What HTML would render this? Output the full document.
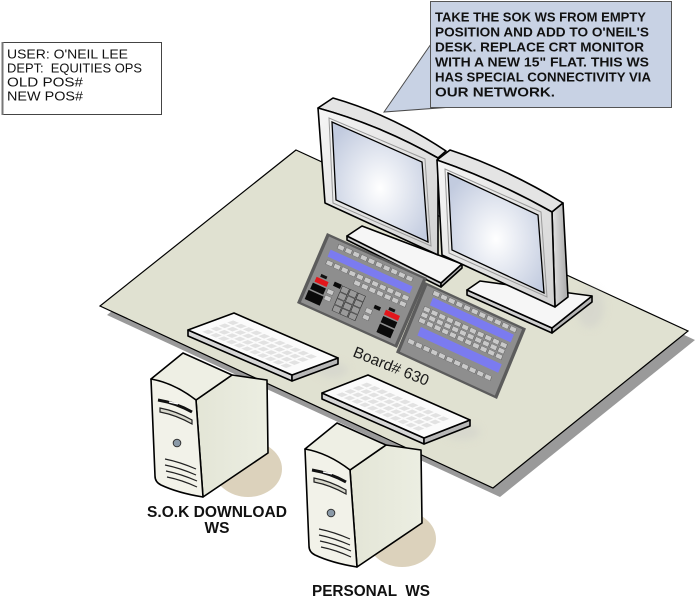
<!DOCTYPE html>
<html><head><meta charset="utf-8">
<style>
html,body{margin:0;padding:0;background:#fff;}
svg{display:block;}
text{font-family:"Liberation Sans",Arial,sans-serif;}
.b{fill:#c9c9c9;stroke:#666;stroke-width:.5;}
.o{stroke:#000;stroke-width:1.6;stroke-linejoin:round;}
</style></head><body>
<svg width="698" height="601" viewBox="0 0 698 601" xmlns="http://www.w3.org/2000/svg">
<defs>
 <radialGradient id="scr" cx="0.5" cy="0.55" r="0.62">
  <stop offset="0" stop-color="#ffffff"/>
  <stop offset="1" stop-color="#c2cbdf"/>
 </radialGradient>
 <linearGradient id="bez" x1="0" y1="0" x2="1" y2="1">
  <stop offset="0" stop-color="#f6f6f6"/>
  <stop offset="1" stop-color="#d2d2d2"/>
 </linearGradient>
 <linearGradient id="side" x1="0" y1="0" x2="1" y2="0">
  <stop offset="0" stop-color="#e2e2e2"/><stop offset="1" stop-color="#a9a9a9"/>
 </linearGradient>
 <linearGradient id="tside" x1="0" y1="0" x2="1" y2="0">
  <stop offset="0" stop-color="#e3e5d6"/><stop offset="1" stop-color="#eceee2"/>
 </linearGradient>
 <pattern id="keys" patternUnits="userSpaceOnUse" x="7.5" y="10" width="7.5" height="18">
  <rect x="1" y="2" width="5.5" height="13" fill="#e2e2e2"/>
 </pattern>
 <filter id="blur"><feGaussianBlur stdDeviation="4"/></filter>
 <g id="tower">
  <ellipse cx="248" cy="469" rx="34" ry="28" fill="#dcd2bc"/>
  <polygon class="o" points="196,400 232,375 267,380 268,453 203,497" fill="url(#tside)"/>
  <polygon class="o" points="151,379 183,353 232,375 196,400" fill="#eeefe4"/>
  <path class="o" d="M151,379 Q174,383 196,400 L203,497 Q178,493 161,485 Q155,482 155,476 Z" fill="#f2f2e9"/>
  <path d="M158,400 Q176,403 192,412" stroke="#111" stroke-width="3" fill="none"/>
  <path d="M169,402 L178,404" stroke="#fff" stroke-width="1.4"/>
  <path d="M160,408 Q176,411 192,420 L192,424 Q176,415 160,412 Z" fill="#d8d8cc" stroke="#222" stroke-width="1.2"/>
  <circle cx="177" cy="443" r="3.8" fill="#8b9aa8" stroke="#333" stroke-width="1"/>
  <path d="M165,459 Q180,462 196,469 M165,465 Q180,468 196,475 M166,471 Q181,474 197,481 M167,477 Q182,480 197,487" stroke="#222" stroke-width="1.2" fill="none"/>
 </g>
</defs>

<!-- desk -->
<polygon points="303,159 695,340 500,497 107,315" fill="#9a9a9a"/>
<polygon points="296,150 688,331 493,488 100,306" fill="#e0e1d1" stroke="#000" stroke-width="1.2"/>

<!-- soft shadows -->
<g filter="url(#blur)" opacity="0.5" fill="#cfcfca">
 <ellipse cx="590" cy="308" rx="14" ry="20"/>
 <ellipse cx="462" cy="432" rx="18" ry="8"/>
 <ellipse cx="332" cy="370" rx="16" ry="8"/>
</g>

<!-- tower 1 + keyboard 1 -->
<use href="#tower"/>
<polygon class="o" points="188,330 292,375 292,381 188,336" fill="#d6d6d6"/>
<polygon class="o" points="292,375 338,358 338,364 292,381" fill="#b8b8b8"/>
<polygon class="o" points="188,330 234,313 338,358 292,375" fill="#fbfbfb"/>
<g transform="matrix(1.04,0.45,0.46,-0.17,188,330)">
 <rect x="7.5" y="10" width="82.5" height="72" fill="url(#keys)"/>
</g>

<!-- tower 2 + keyboard 2 -->
<use href="#tower" transform="translate(154,70)"/>
<polygon class="o" points="322,393 424,438 424,444 322,399" fill="#d6d6d6"/>
<polygon class="o" points="424,438 470,420 470,426 424,444" fill="#b8b8b8"/>
<polygon class="o" points="322,393 368,375 470,420 424,438" fill="#fbfbfb"/>
<g transform="matrix(1.02,0.45,0.46,-0.18,322,393)">
 <rect x="7.5" y="10" width="82.5" height="72" fill="url(#keys)"/>
</g>

<!-- left monitor stand -->
<polygon class="o" points="347,236 347,240 441,287 441,283" fill="#cfcfcf"/>
<polygon class="o" points="441,283 441,287 462,268 462,264" fill="#b5b5b5"/>
<polygon class="o" points="347,236 362,226 462,264 441,283" fill="#f6f6f6"/>

<!-- left monitor -->
<path class="o" d="M318,108 L333,98 Q392,115 446,151 L438,158 Q380,125 318,108 Z" fill="#e4e4e4" stroke-width="2"/>
<path class="o" d="M318,108 Q380,125 438,158 L438,255 L325,203 Z" fill="url(#bez)" stroke-width="2"/>
<polygon points="329,118 425,159 431,246 333,203" fill="none" stroke="#9a9a9a" stroke-width="1"/>
<polygon points="332,122 422,162 428,242 336,200" fill="url(#scr)" stroke="#000" stroke-width="1.3"/>

<!-- right monitor stand -->
<polygon class="o" points="467,290 467,295 552,333 552,328" fill="#cfcfcf"/>
<polygon class="o" points="552,328 552,333 592,302 592,296" fill="#b5b5b5"/>
<polygon class="o" points="467,290 480,281 592,296 552,328" fill="#f6f6f6"/>

<!-- right monitor -->
<path class="o" d="M437,160 L450,150 Q505,168 563,203 L552,212 Q495,180 437,160 Z" fill="#e4e4e4" stroke-width="2"/>
<path class="o" d="M552,212 L563,203 L568,297 L555,307 Z" fill="url(#side)" stroke-width="2"/>
<path class="o" d="M437,160 Q495,180 552,212 L555,307 L442,255 Z" fill="url(#bez)" stroke-width="2"/>
<polygon points="445,169 541,212 547,297 449,253" fill="none" stroke="#9a9a9a" stroke-width="1"/>
<polygon points="448,173 538,215 544,293 452,250" fill="url(#scr)" stroke="#000" stroke-width="1.3"/>

<!-- left trading board -->
<g transform="matrix(1.0,0.45,-0.30,0.70,327,233)">
 <rect x="0" y="0" width="100" height="100" fill="#5c5c5c"/>
 <rect x="3" y="3" width="94" height="94" fill="#8e8e8e"/>
 <rect class="b" x="14" y="7" width="6" height="6"/><rect class="b" x="21.6" y="7" width="6" height="6"/><rect class="b" x="29.2" y="7" width="6" height="6"/><rect class="b" x="36.8" y="7" width="6" height="6"/><rect class="b" x="44.4" y="7" width="6" height="6"/><rect class="b" x="52" y="7" width="6" height="6"/><rect class="b" x="59.6" y="7" width="6" height="6"/><rect class="b" x="67.2" y="7" width="6" height="6"/><rect class="b" x="74.8" y="7" width="6" height="6"/><rect class="b" x="82.4" y="7" width="6" height="6"/>
 <rect x="9" y="18" width="82" height="10" fill="#7b7bf0"/>
 <rect class="b" x="10" y="32" width="6" height="6"/><rect class="b" x="17.6" y="32" width="6" height="6"/><rect class="b" x="25.2" y="32" width="6" height="6"/><rect class="b" x="32.8" y="32" width="6" height="6"/><rect class="b" x="40.4" y="32" width="6" height="6"/><rect class="b" x="48" y="32" width="6" height="6"/><rect class="b" x="55.6" y="32" width="6" height="6"/><rect class="b" x="63.2" y="32" width="6" height="6"/><rect class="b" x="70.8" y="32" width="6" height="6"/><rect class="b" x="78.4" y="32" width="6" height="6"/><rect class="b" x="86" y="32" width="6" height="6"/>
 <rect class="b" x="40.4" y="41" width="6" height="6"/><rect class="b" x="48" y="41" width="6" height="6"/><rect class="b" x="55.6" y="41" width="6" height="6"/><rect class="b" x="63.2" y="41" width="6" height="6"/><rect class="b" x="70.8" y="41" width="6" height="6"/><rect class="b" x="78.4" y="41" width="6" height="6"/><rect class="b" x="86" y="41" width="6" height="6"/>
 <rect x="10" y="52" width="6" height="4" fill="#111"/>
 <rect x="7" y="58" width="12" height="7" fill="#e3161b"/>
 <rect x="6" y="67" width="13" height="9" fill="#0a0a0a"/>
 <rect x="5" y="78" width="15" height="13" fill="#0a0a0a"/>
 <rect x="24" y="54" width="7" height="6" fill="#0a0a0a"/>
 <rect class="b" x="21" y="66" width="6" height="6"/><rect class="b" x="21" y="75" width="6" height="6"/>
 <g fill="#9a9a9a" stroke="#333" stroke-width=".6">
  <rect x="32" y="55" width="7" height="8"/><rect x="40" y="55" width="7" height="8"/><rect x="48" y="55" width="7" height="8"/>
  <rect x="32" y="64" width="7" height="8"/><rect x="40" y="64" width="7" height="8"/><rect x="48" y="64" width="7" height="8"/>
  <rect x="32" y="73" width="7" height="8"/><rect x="40" y="73" width="7" height="8"/><rect x="48" y="73" width="7" height="8"/>
  <rect x="32" y="82" width="7" height="8"/><rect x="40" y="82" width="7" height="8"/><rect x="48" y="82" width="7" height="8"/>
 </g>
 <rect class="b" x="60" y="68" width="6" height="6"/><rect class="b" x="60" y="77" width="6" height="6"/>
 <rect x="66" y="60" width="6" height="5" fill="#0a0a0a"/>
 <rect x="79" y="55" width="6" height="4" fill="#111"/>
 <rect x="77" y="60" width="14" height="7" fill="#e3161b"/>
 <rect x="77" y="69" width="14" height="9" fill="#0a0a0a"/>
 <rect x="77" y="80" width="14" height="12" fill="#0a0a0a"/>
</g>

<!-- right trading board -->
<g transform="matrix(1.01,0.465,-0.29,0.705,425,282)">
 <rect x="0" y="0" width="100" height="100" fill="#5c5c5c"/>
 <rect x="3" y="3" width="94" height="94" fill="#8e8e8e"/>
 <rect class="b" x="10.5" y="5" width="6" height="6"/><rect class="b" x="18.1" y="5" width="6" height="6"/><rect class="b" x="25.7" y="5" width="6" height="6"/><rect class="b" x="33.3" y="5" width="6" height="6"/><rect class="b" x="40.9" y="5" width="6" height="6"/><rect class="b" x="48.5" y="5" width="6" height="6"/><rect class="b" x="56.1" y="5" width="6" height="6"/><rect class="b" x="63.7" y="5" width="6" height="6"/><rect class="b" x="71.3" y="5" width="6" height="6"/><rect class="b" x="78.9" y="5" width="6" height="6"/><rect class="b" x="86.5" y="5" width="6" height="6"/>
 <rect x="12" y="14" width="80" height="11" fill="#7b7bf0"/>
 <g>
  <rect class="b" x="8" y="29" width="6" height="6"/><rect class="b" x="15.6" y="29" width="6" height="6"/><rect class="b" x="23.2" y="29" width="6" height="6"/><rect class="b" x="30.8" y="29" width="6" height="6"/><rect class="b" x="38.4" y="29" width="6" height="6"/><rect class="b" x="46" y="29" width="6" height="6"/><rect class="b" x="53.6" y="29" width="6" height="6"/><rect class="b" x="61.2" y="29" width="6" height="6"/><rect class="b" x="68.8" y="29" width="6" height="6"/><rect class="b" x="76.4" y="29" width="6" height="6"/><rect class="b" x="84" y="29" width="6" height="6"/>
  <rect class="b" x="8" y="37" width="6" height="6"/><rect class="b" x="15.6" y="37" width="6" height="6"/><rect class="b" x="23.2" y="37" width="6" height="6"/><rect class="b" x="30.8" y="37" width="6" height="6"/><rect class="b" x="38.4" y="37" width="6" height="6"/><rect class="b" x="46" y="37" width="6" height="6"/><rect class="b" x="53.6" y="37" width="6" height="6"/><rect class="b" x="61.2" y="37" width="6" height="6"/><rect class="b" x="68.8" y="37" width="6" height="6"/><rect class="b" x="76.4" y="37" width="6" height="6"/><rect class="b" x="84" y="37" width="6" height="6"/>
  <rect class="b" x="8" y="45" width="6" height="6"/><rect class="b" x="15.6" y="45" width="6" height="6"/><rect class="b" x="23.2" y="45" width="6" height="6"/><rect class="b" x="30.8" y="45" width="6" height="6"/><rect class="b" x="38.4" y="45" width="6" height="6"/><rect class="b" x="46" y="45" width="6" height="6"/><rect class="b" x="53.6" y="45" width="6" height="6"/><rect class="b" x="61.2" y="45" width="6" height="6"/><rect class="b" x="68.8" y="45" width="6" height="6"/><rect class="b" x="76.4" y="45" width="6" height="6"/><rect class="b" x="84" y="45" width="6" height="6"/>
 </g>
 <rect x="12" y="56" width="80" height="12" fill="#7b7bf0"/>
 <rect class="b" x="6" y="76" width="6" height="6"/><rect class="b" x="13.6" y="76" width="6" height="6"/><rect class="b" x="21.2" y="76" width="6" height="6"/><rect class="b" x="28.8" y="76" width="6" height="6"/><rect class="b" x="36.4" y="76" width="6" height="6"/><rect class="b" x="44" y="76" width="6" height="6"/><rect class="b" x="51.6" y="76" width="6" height="6"/><rect class="b" x="59.2" y="76" width="6" height="6"/><rect class="b" x="66.8" y="76" width="6" height="6"/><rect class="b" x="74.4" y="76" width="6" height="6"/><rect class="b" x="82" y="76" width="6" height="6"/>
</g>

<text transform="translate(352,356) rotate(22)" font-size="15.5" fill="#1a1a1a">Board# 630</text>

<!-- callout -->
<polygon points="431,44 384,112 452,107" fill="#c8d2e4" stroke="#4a4a4a" stroke-width="1"/>
<rect x="430.5" y="1.5" width="241" height="106" fill="#c8d2e4" stroke="#555" stroke-width="1"/>
<g font-weight="bold" font-size="13" fill="#111">
 <text x="435" y="21.5" textLength="211" lengthAdjust="spacingAndGlyphs">TAKE THE SOK WS FROM EMPTY</text>
 <text x="435" y="36.5" textLength="214" lengthAdjust="spacingAndGlyphs">POSITION AND ADD TO O'NEIL'S</text>
 <text x="435" y="51.5" textLength="209" lengthAdjust="spacingAndGlyphs">DESK. REPLACE CRT MONITOR</text>
 <text x="435" y="66.5" textLength="214" lengthAdjust="spacingAndGlyphs">WITH A NEW 15" FLAT. THIS WS</text>
 <text x="435" y="81.5" textLength="216" lengthAdjust="spacingAndGlyphs">HAS SPECIAL CONNECTIVITY VIA</text>
 <text x="435" y="96.5" textLength="120" lengthAdjust="spacingAndGlyphs">OUR NETWORK.</text>
</g>

<!-- info box -->
<rect x="2.5" y="42.5" width="159" height="72" fill="#fff" stroke="#444" stroke-width="1"/>
<line x1="2.5" y1="42" x2="2.5" y2="115" stroke="#777" stroke-width="2"/>
<g font-size="13" fill="#111">
 <text x="7" y="58.5" textLength="121" lengthAdjust="spacingAndGlyphs">USER: O'NEIL LEE</text>
 <text x="7" y="72.5" textLength="135" lengthAdjust="spacingAndGlyphs" xml:space="preserve">DEPT:  EQUITIES OPS</text>
 <text x="7" y="86.5" textLength="76" lengthAdjust="spacingAndGlyphs">OLD POS#</text>
 <text x="7" y="100.5" textLength="76" lengthAdjust="spacingAndGlyphs">NEW POS#</text>
</g>

<!-- labels -->
<g font-weight="bold" font-size="15.5" fill="#111">
 <text x="147" y="517" textLength="140" lengthAdjust="spacingAndGlyphs">S.O.K DOWNLOAD</text>
 <text x="217" y="533" text-anchor="middle">WS</text>
 <text x="312" y="596" textLength="118" lengthAdjust="spacingAndGlyphs" xml:space="preserve">PERSONAL  WS</text>
</g>
</svg>
</body></html>
